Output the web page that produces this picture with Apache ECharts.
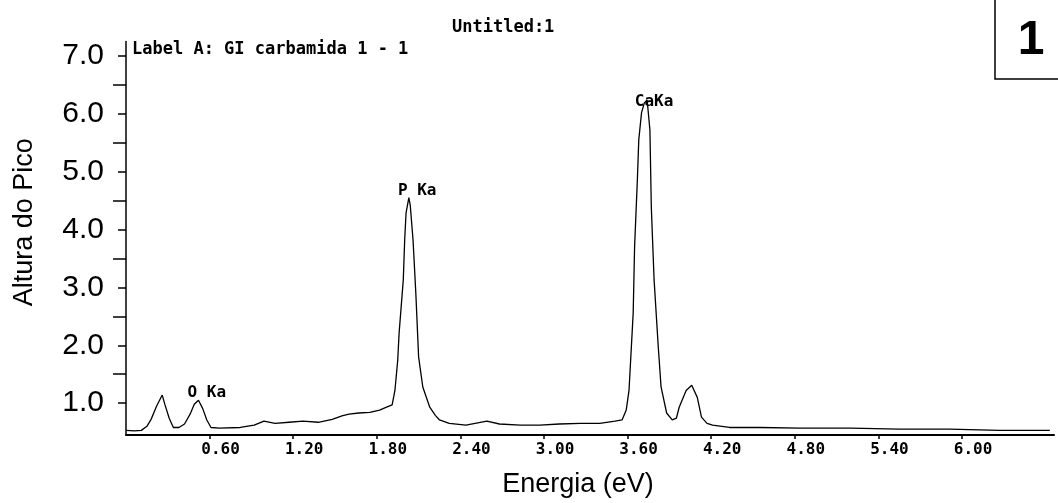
<!DOCTYPE html>
<html>
<head>
<meta charset="utf-8">
<script src="https://cdn.jsdelivr.net/npm/echarts@6/dist/echarts.min.js"></script>
<style>
  html, body { margin: 0; padding: 0; background: #fff; }
  #chart { width: 1058px; height: 503px; }
</style>
</head>
<body>
<div id="chart"></div>
<script>
// espectro EDS
var energy = [0.00, 0.06, 0.11, 0.15, 0.18, 0.22, 0.26, 0.28, 0.31, 0.34, 0.38, 0.42, 0.46, 0.49, 0.52, 0.55, 0.58, 0.61,
  0.67, 0.82, 0.92, 0.99, 1.07, 1.17, 1.27, 1.38, 1.48, 1.55, 1.60, 1.67, 1.75, 1.82, 1.87, 1.91,
  1.93, 1.95, 1.96, 1.99, 2.00, 2.01, 2.03, 2.04, 2.06, 2.08, 2.10, 2.13, 2.18, 2.22, 2.25, 2.32,
  2.44, 2.59, 2.68, 2.83, 2.97, 3.11, 3.26, 3.40, 3.51, 3.56, 3.59, 3.61, 3.64, 3.65, 3.67, 3.68,
  3.70, 3.72, 3.74, 3.76, 3.77, 3.79, 3.82, 3.84, 3.88, 3.92, 3.95, 3.97, 4.02, 4.06, 4.10, 4.13,
  4.17, 4.21, 4.33, 4.55, 4.84, 5.20, 5.55, 5.91, 6.27, 6.63];
var height = [0.53, 0.52, 0.53, 0.60, 0.72, 0.95, 1.14, 0.97, 0.74, 0.58, 0.58, 0.64, 0.81, 0.98, 1.05, 0.91, 0.71, 0.58,
  0.57, 0.58, 0.62, 0.69, 0.65, 0.67, 0.69, 0.67, 0.72, 0.78, 0.81, 0.83, 0.84, 0.88, 0.93, 0.97,
  1.22, 1.74, 2.21, 3.13, 3.82, 4.29, 4.55, 4.42, 3.82, 2.90, 1.80, 1.28, 0.93, 0.79, 0.71, 0.65,
  0.62, 0.69, 0.64, 0.62, 0.62, 0.64, 0.65, 0.65, 0.69, 0.71, 0.88, 1.22, 2.56, 3.70, 4.86, 5.55,
  6.02, 6.19, 6.24, 5.72, 4.39, 3.13, 1.97, 1.28, 0.83, 0.71, 0.74, 0.93, 1.22, 1.31, 1.10, 0.76,
  0.65, 0.62, 0.58, 0.58, 0.57, 0.57, 0.55, 0.55, 0.53, 0.53];

var xTicks = [0.6, 1.2, 1.8, 2.4, 3.0, 3.6, 4.2, 4.8, 5.4, 6.0];
var yTicks = [1, 2, 3, 4, 5, 6, 7];
var yMinorTicks = [1.5, 2.5, 3.5, 4.5, 5.5, 6.5];

var peakNames = ['O Ka', 'P Ka', 'CaKa'];
var peakX = [0.58, 2.09, 3.79];
var peakY = [1.17, 4.67, 6.21];

var seriesData = [];
for (var i = 0; i < energy.length; i++) {
  seriesData.push([energy[i], height[i]]);
}
var peakPoints = [];
for (var j = 0; j < peakNames.length; j++) {
  peakPoints.push({ name: peakNames[j], coord: [peakX[j], peakY[j]] });
}

var mono = 'DejaVu Sans Mono';

var myChart = echarts.init(document.getElementById('chart'));
myChart.setOption({
  animation: false,
  title: [
    { text: 'Untitled:1', left: 447, top: 14,
      textStyle: { fontFamily: mono, fontWeight: 'bold', fontSize: 17, color: '#000' } },
    { text: 'Label A: GI carbamida 1 - 1', left: 127, top: 36,
      textStyle: { fontFamily: mono, fontWeight: 'bold', fontSize: 17, color: '#000' } }
  ],
  grid: { left: 126, right: 4, top: 41.5, bottom: 68, containLabel: false },
  xAxis: {
    type: 'value',
    min: 0,
    max: 6.66,
    name: 'Energia (eV)',
    nameLocation: 'middle',
    nameGap: 36,
    nameTextStyle: { fontFamily: 'Arial', fontSize: 27, color: '#000', padding: [0, 24, 0, 0] },
    axisLine: { show: true, lineStyle: { color: '#000', width: 2 } },
    axisTick: { show: true, customValues: xTicks, length: 4, lineStyle: { color: '#000', width: 1.5 } },
    axisLabel: {
      customValues: xTicks,
      margin: 7,
      fontFamily: mono, fontWeight: 'bold', fontSize: 16, color: '#000',
      padding: [0, 0, 0, 22],
      formatter: function (v) { return v.toFixed(2); }
    },
    splitLine: { show: false }
  },
  yAxis: [
    {
      type: 'value',
      min: 0.45,
      max: 7.25,
      name: 'Altura do Pico',
      nameLocation: 'middle',
      nameRotate: 90,
      nameGap: 88,
      nameTextStyle: { fontFamily: 'Arial', fontSize: 27, color: '#000', padding: [0, 0, 0, 32] },
      axisLine: { show: true, lineStyle: { color: '#000', width: 1.5 } },
      axisTick: { show: true, customValues: yTicks, length: 8, lineStyle: { color: '#000', width: 1.5 } },
      axisLabel: {
        customValues: yTicks,
        margin: 22,
        fontFamily: 'Arial', fontSize: 30, color: '#000',
        padding: [0, 0, 5, 0],
        formatter: function (v) { return v.toFixed(1); }
      },
      splitLine: { show: false }
    },
    {
      type: 'value',
      min: 0.45,
      max: 7.25,
      position: 'left',
      axisLine: { show: false },
      axisTick: { show: true, customValues: yMinorTicks, length: 13, lineStyle: { color: '#000', width: 1.5 } },
      axisLabel: { show: false },
      splitLine: { show: false }
    }
  ],
  series: [{
    type: 'line',
    data: seriesData,
    showSymbol: false,
    symbol: 'none',
    lineStyle: { color: '#000', width: 1.3 },
    markPoint: {
      symbol: 'circle',
      symbolSize: 0,
      itemStyle: { color: 'transparent' },
      label: {
        show: true,
        position: 'inside',
        formatter: '{b}',
        fontFamily: mono, fontWeight: 'bold', color: '#000',
        fontSize: 16
      },
      data: peakPoints
    }
  }],
  graphic: [
    { type: 'rect', shape: { x: 995, y: -2, width: 70, height: 81 },
      style: { fill: '#fff', stroke: '#000', lineWidth: 1.5 } },
    { type: 'text', x: 1031, y: 41,
      style: { text: '1', fontFamily: 'Arial', fontWeight: 'bold', fontSize: 48, fill: '#000',
        align: 'center', verticalAlign: 'middle' } }
  ]
});
</script>
</body>
</html>
